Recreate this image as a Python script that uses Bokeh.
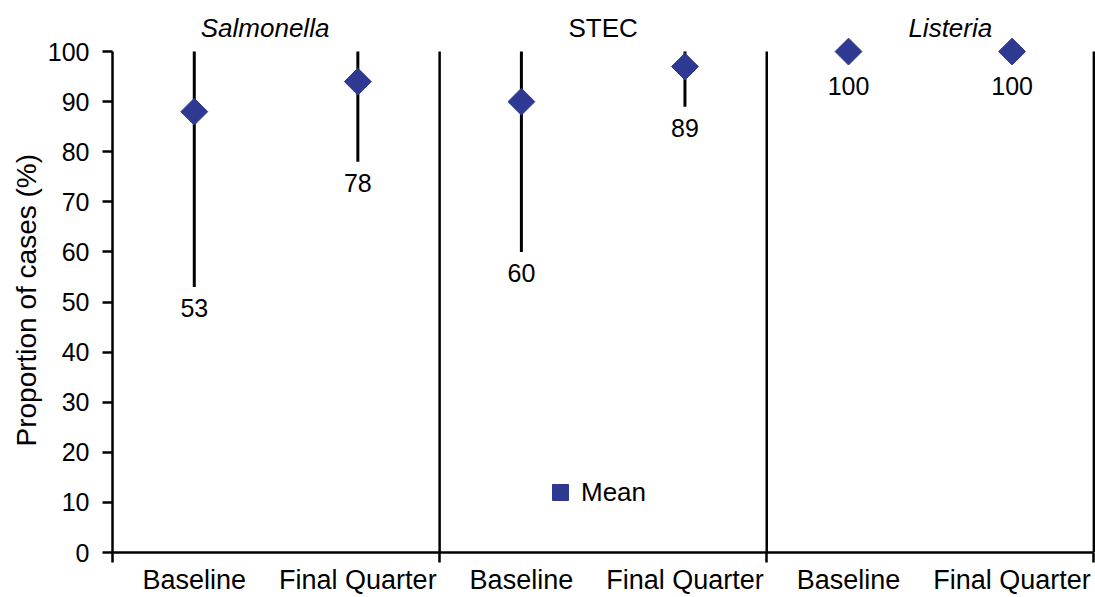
import numpy as np
from bokeh.plotting import figure
from bokeh.models import Range1d, LinearAxis, FixedTicker, Legend, LegendItem, ColumnDataSource, Title
from bokeh.core.properties import value
from bokeh.embed import file_html
from bokeh.resources import INLINE

# ---- data ----
groups = ["Salmonella", "STEC", "Listeria"]
group_style = ["italic", "normal", "italic"]
periods = ["Baseline", "Final Quarter"]
mean_pct = [88, 94, 90, 97, 100, 100]
low_pct = [53, 78, 60, 89, 100, 100]
high_pct = [100, 100, 100, 100, 100, 100]
y_ticks = list(range(0, 101, 10))

FONT = "Liberation Sans"
FS = "26px"
FS_CAT = "27px"
FS_YLAB = "28px"
FS_NUM = "25px"
BLUE = "#2E3A91"

n = len(mean_pct)
xs = [i + 0.5 for i in range(n)]
cats = [periods[i % len(periods)] for i in range(n)]
bounds = [2 * g for g in range(len(groups) + 1)]

p = figure(width=1095, height=597, output_backend="svg", toolbar_location=None,
           x_range=Range1d(0, 6.01), y_range=Range1d(0, 107),
           min_border_left=112, min_border_right=0, min_border_top=16, min_border_bottom=44)
p.outline_line_color = None
p.grid.visible = False
p.background_fill_color = "white"
p.border_fill_color = "white"

# y axis
ya = p.yaxis[0]
ya.ticker = FixedTicker(ticks=y_ticks)
ya.bounds = (0, 100)
ya.axis_line_width = 2.5
ya.axis_line_color = "black"
ya.major_tick_line_width = 2.5
ya.major_tick_out = 10
ya.major_tick_in = 0
ya.minor_tick_line_color = None
ya.major_label_standoff = 13
ya.major_label_text_font = FONT
ya.major_label_text_font_size = FS_NUM
ya.major_label_text_color = "black"

# y axis title (placed to span the 0-100 part of the axis)
p.add_layout(Title(text="Proportion of cases (%)", align="left", offset=106,
                   text_font=FONT, text_font_size=FS_YLAB, text_font_style="normal",
                   text_color="black", standoff=6), "left")

# x axis: group boundary ticks
xa = p.xaxis[0]
xa.ticker = FixedTicker(ticks=bounds)
xa.bounds = (0, 6)
xa.major_label_overrides = {b: "" for b in bounds}
xa.major_label_text_font_size = "0px"
xa.major_label_standoff = 0
xa.axis_line_width = 2.5
xa.axis_line_color = "black"
xa.major_tick_line_width = 2.5
xa.major_tick_out = 10
xa.major_tick_in = 0
xa.minor_tick_line_color = None

# x axis: category labels
xa2 = LinearAxis(ticker=FixedTicker(ticks=xs),
                 major_label_overrides={x: c for x, c in zip(xs, cats)})
xa2.axis_line_color = None
xa2.major_tick_line_color = None
xa2.minor_tick_line_color = None
xa2.major_tick_out = 0
xa2.major_tick_in = 0
xa2.major_label_standoff = 2
xa2.major_label_text_font = FONT
xa2.major_label_text_font_size = FS_CAT
xa2.major_label_text_color = "black"
p.add_layout(xa2, "below")

# group separators
p.segment(x0=bounds[1:], y0=[0] * len(groups), x1=bounds[1:], y1=[100] * len(groups),
          line_color="black", line_width=2.5)

# ranges
src = ColumnDataSource(dict(x=xs, mean=mean_pct, low=low_pct, high=high_pct,
                            lab=[str(v) for v in low_pct],
                            off=[34 if lo >= m else 21 for lo, m in zip(low_pct, mean_pct)]))
p.segment(x0="x", y0="low", x1="x", y1="high", source=src, line_color="black", line_width=3)
r_mean = p.scatter(x="x", y="mean", source=src, marker="square", angle=np.pi / 4,
                   size=19, fill_color=BLUE, line_color=BLUE)
p.text(x="x", y="low", text="lab", source=src, y_offset="off",
       text_align="center", text_baseline="middle",
       text_font=value(FONT), text_font_size=FS_NUM, text_color="black")

# group titles
gsrc = ColumnDataSource(dict(x=[2 * g + 1 for g in range(len(groups))], y=[100] * len(groups),
                             t=groups, st=group_style, xo=[-11, 0, 20]))
p.text(x="x", y="y", text="t", source=gsrc, x_offset="xo", y_offset=-24,
       text_align="center", text_baseline="alphabetic", text_font_style="st",
       text_font=value(FONT), text_font_size=FS, text_color="black")

legend = Legend(items=[LegendItem(label="Mean", renderers=[r_mean])],
                location=(428, 40), padding=0, margin=0, spacing=0,
                glyph_width=40, glyph_height=40, label_standoff=1,
                label_text_font=FONT, label_text_font_size=FS, label_text_color="black",
                background_fill_alpha=0, border_line_color=None)
p.add_layout(legend, "center")

open("out.html", "w").write(file_html(p, INLINE))
